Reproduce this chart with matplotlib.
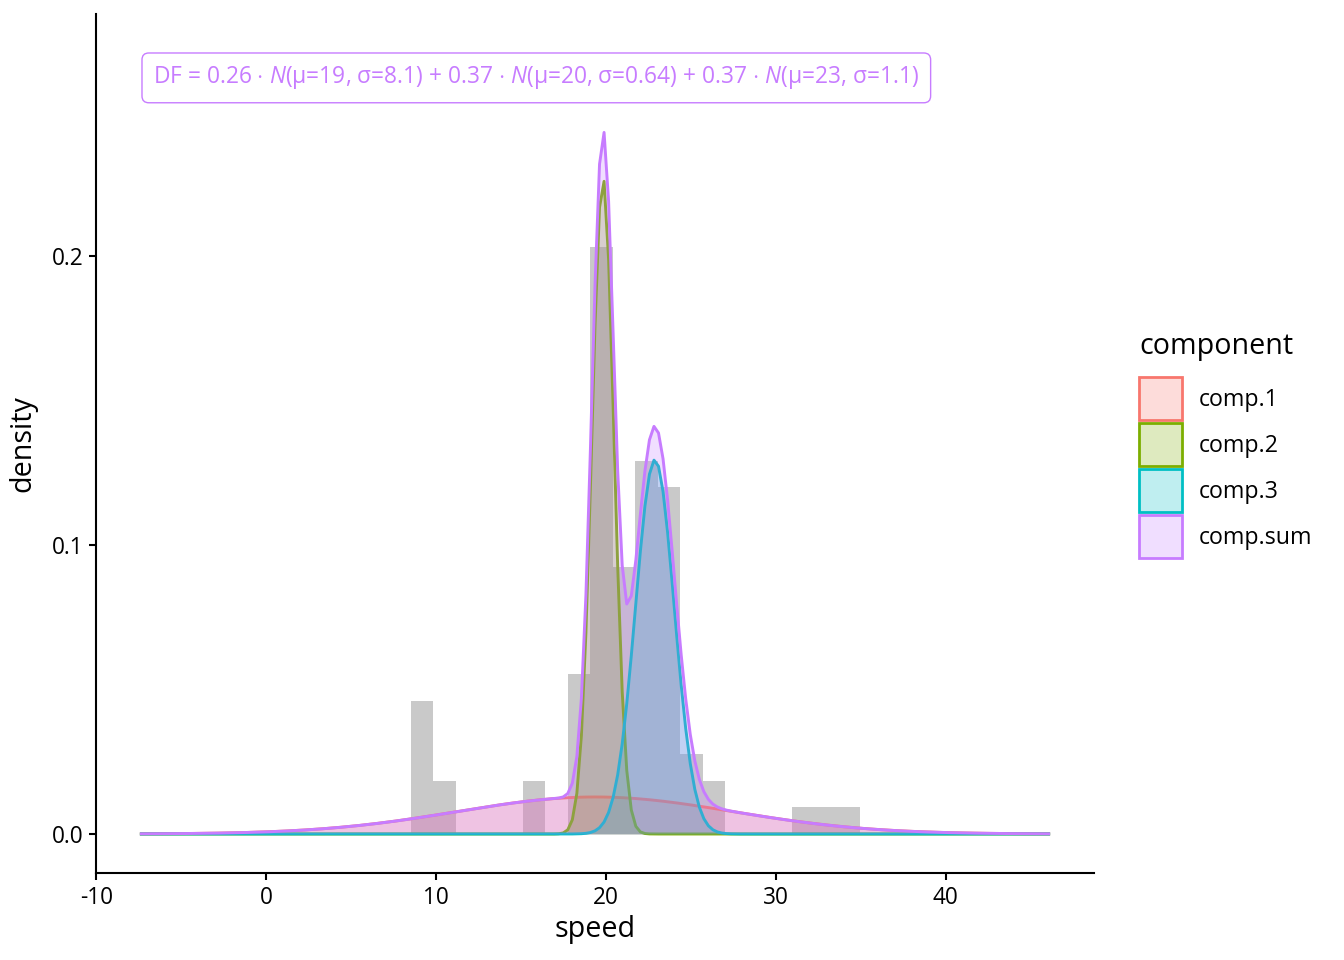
import numpy as np
import matplotlib
matplotlib.use("Agg")
from matplotlib import pyplot as plt
from matplotlib.patches import Patch

plt.rcParams['font.family'] = ['Open Sans', 'DejaVu Sans']
plt.rcParams['mathtext.fontset'] = 'custom'
plt.rcParams['mathtext.rm'] = 'Open Sans'
plt.rcParams['mathtext.it'] = 'Open Sans:italic'

# histogram of speed (counts per bin)
bin_start = 8.511
bin_width = 1.3214
bin_counts = [5, 2, 0, 0, 0, 2, 0, 6, 22, 10, 14, 13, 3, 2, 0, 0, 0, 1, 1, 1]
n_obs = 82

# fitted mixture components
comp_names = ['comp.1', 'comp.2', 'comp.3']
comp_weight = [0.26, 0.37, 0.37]
comp_mean = [19.36, 19.82, 22.88]
comp_sd = [8.1, 0.65, 1.14]
x_from = -7.35
x_to = 46.06
n_points = 201

colors = ['#F8766D', '#7CAE00', '#00BFC4', '#C77CFF']
label_text = (r'DF = 0.26 $\cdot$ $\mathit{N}$(μ=19, σ=8.1) + 0.37 $\cdot$ $\mathit{N}$(μ=20, σ=0.64)'
              r' + 0.37 $\cdot$ $\mathit{N}$(μ=23, σ=1.1)')

fig = plt.figure(figsize=(13.44, 9.6), dpi=100)
ax = fig.add_axes([96/1344, 1-873/960, (1094-96)/1344, (873-14)/960])

# histogram
edges = bin_start + bin_width*np.arange(len(bin_counts)+1)
dens = np.array(bin_counts)/(n_obs*bin_width)
ax.bar(edges[:-1], dens, width=bin_width, align='edge', color='#7f7f7f', alpha=0.42, lw=0, zorder=1)

# mixture curves
x = np.linspace(x_from, x_to, n_points)
curves = []
for w, m, s in zip(comp_weight, comp_mean, comp_sd):
    curves.append(w*np.exp(-0.5*((x-m)/s)**2)/(s*np.sqrt(2*np.pi)))
curves.append(np.sum(curves, axis=0))
names = comp_names + ['comp.sum']

handles = []
for i, y in enumerate(curves):
    ax.fill_between(x, 0, y, color=colors[i], alpha=0.25, lw=0, zorder=2+i)
    ax.plot(x, y, color=colors[i], lw=2.1, zorder=2+i)
    handles.append(Patch(facecolor=matplotlib.colors.to_rgba(colors[i], 0.25),
                         edgecolor=colors[i], lw=2.0, label=names[i]))

ax.text(15.9, 0.2616, label_text, color='#C77CFF', fontsize=16.4, ha='center', va='center',
        zorder=10,
        bbox=dict(boxstyle='round,pad=0.5,rounding_size=0.3', fc='white', ec='#C77CFF', lw=1.0))

ax.set_xlim(-10.02, 48.73)
ax.set_ylim(-0.0135, 0.2837)
ax.set_xticks([-10, 0, 10, 20, 30, 40])
ax.set_xticklabels(['-10', '0', '10', '20', '30', '40'])
ax.set_yticks([0.0, 0.1, 0.2])
ax.set_yticklabels(['0.0', '0.1', '0.2'])
for side in ['top', 'right']:
    ax.spines[side].set_visible(False)
for side in ['left', 'bottom']:
    ax.spines[side].set_linewidth(1.5)
ax.tick_params(labelsize=16.3, width=1.5, length=5, colors='black', pad=4)
ax.set_xlabel('speed', fontsize=20.6, labelpad=4)
ax.set_ylabel('density', fontsize=20.6, labelpad=10)

leg = fig.legend(handles=handles, title='component', loc='center left',
                 bbox_to_anchor=(1139/1344, 1-445/960), frameon=False, fontsize=16.7,
                 title_fontsize=20.6, handlelength=1.85, handleheight=2.47,
                 labelspacing=0.13, handletextpad=0.73, borderpad=0, borderaxespad=0)
leg._legend_box.align = 'left'
leg._legend_box.sep = 12

fig.savefig('out.png', dpi=100)
